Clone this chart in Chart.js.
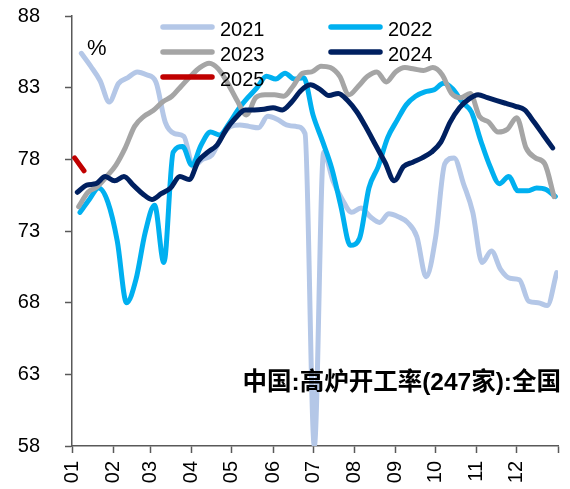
<!DOCTYPE html>
<html lang="zh">
<head>
<meta charset="UTF-8">
<title>中国:高炉开工率(247家):全国</title>
<script src="https://cdn.jsdelivr.net/npm/chart.js"></script>
<style>
  body { margin: 0; background: #fff; }
  #wrap { width: 570px; height: 489px; }
</style>
</head>
<body>
<div id="wrap"><canvas id="chart" width="570" height="489"></canvas></div>
<script>
// weekly readings (Fridays), one array per year
const years = ['2021', '2022', '2023', '2024', '2025'];
const colors = ['#B4C7E7', '#00B0F0', '#A5A5A5', '#002060', '#C00000'];
// day of year (0 = 1 Jan) of the first weekly reading
const firstDay = [7, 6, 5, 4, 2];
const monthStarts = [0, 31, 59, 90, 120, 151, 181, 212, 243, 273, 304, 334, 365];
const monthLabels = ['01', '02', '03', '04', '05', '06', '07', '08', '09', '10', '11', '12', ''];

const v2021 = [85.4, 84.5, 83.5, 82.0, 83.3, 83.7, 84.1, 83.9, 83.4, 80.6,
  79.8, 79.6, 77.5, 78.0, 78.3, 79.5, 80.3, 80.4, 80.3, 80.2,
  81.0, 80.8, 80.4, 80.3, 79.8, 58.0, 78.5, 76.5, 75.2, 74.3,
  74.6, 74.0, 73.6, 74.2, 74.0, 73.6, 72.6, 69.8, 72.5, 77.7,
  78.1, 76.3, 74.3, 70.8, 71.6, 70.3, 69.7, 69.6, 68.1, 68.0,
  67.8, 70.1];
const v2022 = [74.3, 75.2, 76.0, 75.0, 72.3, 68.0, 69.6, 72.9, 74.8, 70.8,
  78.5, 78.9, 77.6, 79.0, 79.9, 79.7, 80.5, 81.5, 82.3, 83.0,
  83.8, 83.6, 84.0, 83.6, 83.7, 81.1, 79.3, 77.4, 74.7, 72.0,
  72.5, 76.0, 77.5, 79.5, 80.7, 81.8, 82.4, 82.7, 82.85, 83.3,
  82.9, 82.0, 81.3, 79.3, 77.5, 76.3, 76.8, 75.8, 75.8, 76.0,
  75.9, 75.4];
const v2023 = [74.7, 75.7, 76.1, 76.8, 77.6, 78.8, 80.3, 81.0, 81.4, 82.0,
  82.4, 83.1, 83.8, 84.4, 84.7, 84.3, 83.3, 82.1, 81.1, 82.3,
  82.5, 82.5, 82.4, 83.1, 84.0, 84.1, 84.5, 84.4, 83.8, 82.5,
  83.1, 83.8, 84.1, 83.4, 84.1, 84.4, 84.3, 84.2, 84.4, 83.9,
  82.6, 82.3, 82.6, 81.0, 80.6, 79.9, 80.1, 80.9, 78.8, 78.1,
  77.7, 75.4];
const v2024 = [75.7, 76.2, 76.3, 76.8, 76.5, 76.8, 76.2, 75.6, 75.2, 75.6,
  76.0, 76.8, 76.6, 77.9, 78.5, 79.0, 80.1, 80.9, 81.45, 81.45,
  81.5, 81.6, 81.45, 82.0, 82.8, 83.2, 82.9, 82.45, 82.6, 82.1,
  81.3, 80.2, 79.0, 77.8, 76.5, 77.5, 77.8, 78.1, 78.5, 79.2,
  80.6, 81.6, 82.2, 82.5, 82.3, 82.1, 81.9, 81.7, 81.45, 80.6,
  79.7, 78.8];
const v2025 = [78.1, 77.2];
const series = [v2021, v2022, v2023, v2024, v2025];

const axisColor = '#595959';
const fontFamily = 'Arial, "Liberation Sans", sans-serif';

// legend in two columns plus the unit and source labels
const extras = {
  id: 'extras',
  afterDatasetsDraw(chart) {
    const ctx = chart.ctx;
    ctx.save();
    ctx.font = '20px ' + fontFamily;
    ctx.textBaseline = 'alphabetic';
    ctx.fillStyle = '#000';
    chart.data.datasets.forEach((ds, i) => {
      const x = 163 + (i % 2) * 168;
      const y = 27 + Math.floor(i / 2) * 25;
      ctx.strokeStyle = ds.borderColor;
      ctx.lineWidth = 5.5;
      ctx.lineCap = 'round';
      ctx.beginPath();
      ctx.moveTo(x, y);
      ctx.lineTo(x + 49, y);
      ctx.stroke();
      ctx.fillText(ds.label, x + 57, y + 9);
    });
    ctx.font = '22px ' + fontFamily;
    ctx.fillText('%', 87, 55);
    ctx.font = 'bold 24.5px ' + fontFamily + ', "Noto Sans CJK SC"';
    ctx.textAlign = 'right';
    ctx.fillText('中国:高炉开工率(247家):全国', 561, 390);
    ctx.restore();
  }
};

new Chart(document.getElementById('chart'), {
  type: 'line',
  data: {
    datasets: years.map((y, k) => ({
      label: y,
      data: series[k].map((v, i) => ({ x: firstDay[k] + 7 * i, y: v })),
      borderColor: colors[k],
      backgroundColor: colors[k],
      borderWidth: 5,
      pointRadius: 0,
      cubicInterpolationMode: 'monotone',
      borderCapStyle: 'round',
      borderJoinStyle: 'round',
      order: years.length - k
    }))
  },
  options: {
    responsive: false,
    animation: false,
    layout: { padding: { top: 16, right: 12, left: 0, bottom: 0 } },
    plugins: {
      legend: { display: false },
      tooltip: { enabled: false }
    },
    scales: {
      x: {
        type: 'linear',
        min: 0,
        max: 365,
        afterBuildTicks: s => { s.ticks = monthStarts.map(v => ({ value: v })); },
        afterFit: s => { s.height = 43; s.paddingLeft = 0; s.paddingRight = 0; },
        ticks: {
          autoSkip: false,
          minRotation: 90,
          maxRotation: 90,
          padding: 8,
          color: '#000',
          font: { family: fontFamily, size: 20 },
          callback: (v, i) => monthLabels[i]
        },
        grid: { drawOnChartArea: false, tickLength: 7, color: axisColor, tickWidth: 1.5 },
        border: { color: axisColor, width: 1.5 }
      },
      y: {
        min: 58,
        max: 88,
        afterFit: s => { s.width = 72; s.paddingTop = 0; s.paddingBottom = 0; },
        ticks: {
          stepSize: 5,
          padding: 25,
          color: '#000',
          font: { family: fontFamily, size: 20 }
        },
        grid: { drawOnChartArea: false, tickLength: 7, color: axisColor, tickWidth: 1.5 },
        border: { color: axisColor, width: 1.5 }
      }
    }
  },
  plugins: [extras]
});
</script>
</body>
</html>
